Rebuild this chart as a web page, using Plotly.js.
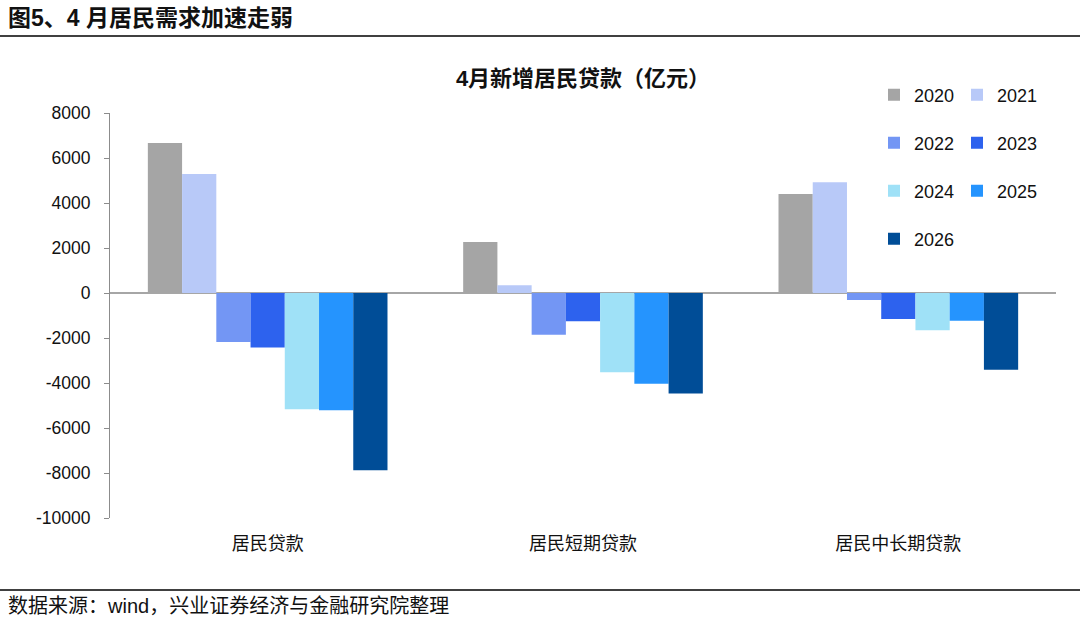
<!DOCTYPE html>
<html><head><meta charset="utf-8">
<script src="https://cdn.plot.ly/plotly-3.0.1.min.js"></script>
<style>html,body{margin:0;padding:0;background:#fff}#chart{width:1080px;height:627px}</style>
</head><body><div id="chart"></div>
<script>
const categories = ['居民贷款', '居民短期贷款', '居民中长期贷款'];
const years = ['2020', '2021', '2022', '2023', '2024', '2025', '2026'];
const v2020 = [6670, 2270, 4400];
const v2021 = [5290, 340, 4920];
const v2022 = [-2180, -1850, -310];
const v2023 = [-2420, -1260, -1160];
const v2024 = [-5170, -3520, -1660];
const v2025 = [-5210, -4030, -1230];
const v2026 = [-7880, -4470, -3410];
const yTicks = [8000, 6000, 4000, 2000, 0, -2000, -4000, -6000, -8000, -10000];
const seriesValues = [v2020, v2021, v2022, v2023, v2024, v2025, v2026];
const colors = ['#A5A5A5', '#B8C9F8', '#7396F4', '#2D62EE', '#9FE1F7', '#2594FE', '#004D97'];
const legendIds = ['legend', 'legend', 'legend2', 'legend2', 'legend3', 'legend3', 'legend4'];

const FONT = 'Liberation Sans, Arial, Noto Sans CJK SC, sans-serif';
const traces = years.map((y, i) => ({
  type: 'bar', name: y, x: categories, y: seriesValues[i],
  marker: {color: colors[i], line: {width: 0}},
  legend: legendIds[i], hoverinfo: 'skip'
}));

const W = 946;
const legendBase = {
  orientation: 'h', xanchor: 'left', yanchor: 'middle', x: (874 - 110) / W,
  font: {family: FONT, size: 18, color: '#111'},
  entrywidth: 38, entrywidthmode: 'pixels', bgcolor: 'rgba(0,0,0,0)',
  itemwidth: 30, traceorder: 'normal'
};
function yPaper(py) { return (627 - 109 - py) / (627 - 109 - 113); }

const layout = {
  width: 1080, height: 627,
  margin: {l: 110, r: 24, t: 113, b: 109, autoexpand: false},
  paper_bgcolor: '#fff', plot_bgcolor: '#fff',
  barmode: 'group', bargap: 0.24, bargroupgap: 0,
  font: {family: FONT, size: 17, color: '#111'},
  xaxis: {
    type: 'category', showline: false, ticks: '', showgrid: false,
    tickfont: {family: FONT, size: 18, color: '#111'}, ticklabelstandoff: 13
  },
  yaxis: {
    range: [-10000, 8000], tickvals: yTicks, ticktext: yTicks.map(String),
    showgrid: false, showline: true, linecolor: '#8c8c8c', linewidth: 1,
    ticks: 'outside', ticklen: 5, tickcolor: '#8c8c8c',
    zeroline: true, zerolinecolor: '#a6a6a6', zerolinewidth: 1.5,
    tickfont: {family: FONT, size: 17.5, color: '#111'}, ticklabelstandoff: 10
  },
  showlegend: true,
  legend: Object.assign({}, legendBase, {y: yPaper(95)}),
  legend2: Object.assign({}, legendBase, {y: yPaper(143)}),
  legend3: Object.assign({}, legendBase, {y: yPaper(191)}),
  legend4: Object.assign({}, legendBase, {y: yPaper(239)}),
  title: {
    text: '<b>4月新增居民贷款（亿元）</b>', x: 0.5, xref: 'paper', xanchor: 'center',
    y: 1 - 78 / 627, yanchor: 'middle', font: {family: FONT, size: 22, color: '#111'}
  },
  shapes: [
    {type: 'line', xref: 'paper', yref: 'paper', x0: -110/W, x1: 1 + 24/W,
     y0: yPaper(36), y1: yPaper(36), line: {color: '#000', width: 1.5}},
    {type: 'line', xref: 'paper', yref: 'paper', x0: -110/W, x1: 1 + 24/W,
     y0: yPaper(590), y1: yPaper(590), line: {color: '#000', width: 1.5}}
  ],
  annotations: [
    {text: '<b>图5、4 月居民需求加速走弱</b>', xref: 'paper', yref: 'paper',
     x: -110/W + 6/W, y: yPaper(18), xanchor: 'left', yanchor: 'middle', showarrow: false,
     font: {family: FONT, size: 23, color: '#111'}},
    {text: '数据来源：wind，兴业证券经济与金融研究院整理', xref: 'paper', yref: 'paper',
     x: -110/W + 6/W, y: yPaper(606), xanchor: 'left', yanchor: 'middle', showarrow: false,
     font: {family: FONT, size: 20, color: '#111'}}
  ]
};
Plotly.newPlot('chart', traces, layout, {displayModeBar: false, staticPlot: true});
</script></body></html>
